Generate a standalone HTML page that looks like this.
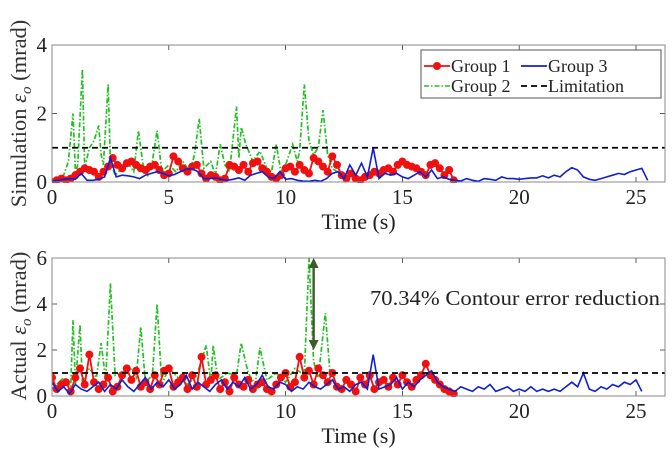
<!DOCTYPE html>
<html><head><meta charset="utf-8"><style>
body{margin:0;background:#fff;}
svg{display:block;font-family:"Liberation Serif",serif;}
</style></head><body>
<svg id="c" width="672" height="455" viewBox="0 0 672 455"></svg>
<script>
const xTicks=[0,5,10,15,20,25];
const topYTicks=[0,2,4];
const botYTicks=[0,2,4,6];
const limitValue=1;
// top panel (Simulation)
const topRedStep=0.2;
const topRed=[0,0.05,0.1,0.05,0.1,0.2,0.3,0.4,0.35,0.3,0.15,0.3,0.45,0.7,0.5,0.4,0.55,0.6,0.5,0.4,0.35,0.45,0.5,0.35,0.2,0.25,0.75,0.6,0.4,0.3,0.45,0.5,0.25,0.1,0.2,0.15,0.05,0.1,0.5,0.45,0.35,0.5,0.3,0.55,0.6,0.4,0.3,0.15,0.1,0.2,0.4,0.45,0.3,0.5,0.35,0.25,0.7,0.6,0.45,0.3,0.75,0.5,0.2,0.1,0.25,0.1,0.05,0.15,0.2,0.3,0.25,0.35,0.4,0.3,0.5,0.6,0.5,0.45,0.4,0.3,0.2,0.5,0.55,0.4,0.2,0.35,0.05];
const topGreenT=[0,0.5,0.7,0.9,1.0,1.1,1.3,1.4,1.6,1.8,2.0,2.1,2.2,2.4,2.5,2.7,3.0,3.3,3.5,3.7,3.9,4.1,4.3,4.5,4.7,5.0,5.3,5.6,5.9,6.1,6.3,6.5,6.8,7.0,7.2,7.4,7.6,7.9,8.0,8.1,8.3,8.6,8.9,9.2,9.4,9.6,9.8,10.0,10.3,10.5,10.6,10.8,11.0,11.2,11.4,11.6,11.8,12.0,12.2];
const topGreen=[0.05,0.2,0.6,2.0,0.3,0.5,3.3,0.4,1.0,1.2,1.65,0.8,0.5,2.85,0.6,0.2,0.4,0.5,0.3,1.5,0.5,0.2,0.6,1.5,0.3,0.5,0.3,0.6,0.3,0.8,1.85,0.4,0.6,0.2,1.1,0.5,0.3,2.2,0.7,1.6,1.1,0.6,0.9,0.4,0.3,1.1,0.3,0.5,1.1,0.6,0.9,2.85,1.2,0.8,1.0,2.1,0.8,0.4,0.3];
const topBlueStep=0.25;
const topBlue=[0.02,0.05,0.08,0.1,0.08,0.25,0.05,0.05,0.08,0.15,0.7,0.15,0.2,0.18,0.15,0.1,0.2,0.25,0.3,0.25,0.18,0.22,0.3,0.38,0.38,0.3,0.1,0.1,0.12,0.08,0.05,0.08,0.12,0.05,0.2,0.25,0.3,0.15,0.1,0.3,0.08,0.1,0.05,0.03,0.02,0.05,0.02,0.1,0.25,0.3,0.1,0.5,0.2,0.55,0.15,1.0,0.1,0.25,0.2,0.25,0.15,0.1,0.2,0.3,0.15,0.35,0.1,0.15,0.08,0.05,0.03,0.1,0.05,0.02,0.1,0.08,0.05,0.15,0.1,0.1,0.08,0.1,0.12,0.12,0.18,0.12,0.2,0.15,0.3,0.42,0.35,0.15,0.08,0.05,0.1,0.15,0.2,0.25,0.22,0.3,0.35,0.4,0.05];
// bottom panel (Actual)
const botRedStep=0.2;
const botRed=[0.8,0.3,0.5,0.6,0.2,0.8,1.2,0.5,1.8,0.6,0.3,0.5,0.8,0.2,0.4,0.9,1.2,0.7,1.1,0.4,0.6,0.3,0.9,0.5,1.1,1.2,0.4,0.6,0.8,0.3,0.9,0.4,1.7,0.5,0.7,0.9,0.3,0.6,0.2,0.8,0.5,0.4,0.7,0.3,0.5,0.6,0.3,0.2,0.5,0.8,1.0,0.4,0.6,1.7,0.8,1.1,0.5,1.2,0.9,0.6,1.0,0.4,0.3,0.7,0.5,0.2,0.8,0.5,0.9,0.3,0.6,0.7,0.4,0.8,0.5,0.9,0.6,0.4,0.7,0.9,1.4,0.9,0.7,0.5,0.3,0.2,0.1];
const botGreenT=[0,0.5,0.8,0.9,1.0,1.2,1.3,1.6,1.9,2.1,2.3,2.5,2.7,3.0,3.3,3.6,3.8,4.0,4.3,4.5,4.7,5.0,5.4,5.8,6.2,6.6,6.8,6.9,7.1,7.5,7.9,8.1,8.4,8.7,8.9,9.2,9.6,10.0,10.4,10.8,11.0,11.2,11.4,11.7,11.9,12.1];
const botGreen=[0.3,0.8,0.4,3.3,0.5,3.1,0.6,1.2,0.8,2.3,0.7,4.9,0.9,1.0,1.3,0.8,3.0,0.6,0.9,4.0,0.5,1.2,0.8,0.5,0.9,2.2,0.6,2.2,0.7,1.0,0.9,2.3,1.0,0.5,2.1,0.7,1.0,0.6,1.2,0.9,6.0,1.5,0.8,3.6,1.0,0.5];
const botBlueStep=0.25;
const botBlue=[0.6,0.2,0.4,0.1,0.5,0.3,0.2,0.4,0.6,0.2,0.5,0.3,0.7,0.4,0.2,0.5,0.8,0.3,0.6,0.4,0.7,0.3,0.5,0.9,0.3,0.6,0.4,0.2,0.5,0.7,0.3,0.6,0.4,0.8,0.3,0.5,0.9,0.4,0.3,0.6,0.5,0.2,0.4,0.3,0.6,0.4,0.3,0.5,0.7,0.3,0.4,0.2,0.5,0.6,0.3,1.8,0.3,0.4,0.5,0.8,0.3,0.6,0.4,0.7,0.9,1.1,0.6,0.4,0.3,0.2,0.4,0.3,0.2,0.4,0.3,0.5,0.2,0.3,0.4,0.2,0.3,0.2,0.4,0.2,0.3,0.2,0.3,0.2,0.4,0.6,0.4,1.0,0.3,0.2,0.4,0.3,0.5,0.4,0.6,0.5,0.7,0.2];

const NS='http://www.w3.org/2000/svg';
const svg=document.getElementById('c');
function mk(tag,attrs,parent){const e=document.createElementNS(NS,tag);for(const k in attrs)e.setAttribute(k,attrs[k]);(parent||svg).appendChild(e);return e;}
const X0=52,XU=23.36,XR=665;
const xs=t=>X0+t*XU;

function panel(cfg){
  const ys=v=>cfg.y0-v*cfg.yu;
  const g=mk('g',{});
  
  
  xTicks.forEach(t=>{
    const l=mk('line',{x1:xs(t),x2:xs(t),y1:cfg.y0,y2:cfg.y0-5,stroke:'#333','stroke-width':0.8},g);
    
    const l2=mk('line',{x1:xs(t),x2:xs(t),y1:cfg.yTop,y2:cfg.yTop+5,stroke:'#333','stroke-width':0.8},g);
    
    const tx=mk('text',{x:xs(t),y:cfg.y0+22,'font-size':21,'text-anchor':'middle',fill:'#222'},g);
    tx.textContent=t;
    
  });
  cfg.yTicks.forEach(v=>{
    const l=mk('line',{x1:X0,x2:X0+5,y1:ys(v),y2:ys(v),stroke:'#333','stroke-width':0.8},g);
    
    const l2=mk('line',{x1:XR,x2:XR-5,y1:ys(v),y2:ys(v),stroke:'#333','stroke-width':0.8},g);
    
    const tx=mk('text',{x:X0-5,y:ys(v)+7,'font-size':21,'text-anchor':'end',fill:'#222'},g);
    tx.textContent=v;
    
  });
  const clipId='clip'+cfg.name;
  const cp=mk('clipPath',{id:clipId},g);
  mk('rect',{x:X0,y:cfg.yTop-1,width:XR-X0,height:cfg.y0-cfg.yTop+2},cp);
  const pl=mk('g',{'clip-path':'url(#'+clipId+')'},g);
  function pts(ts,vs){return vs.map((v,i)=>xs(ts[i]).toFixed(1)+','+ys(v).toFixed(1)).join(' ');}
  const rT=cfg.red.map((v,i)=>i*cfg.redStep), bT=cfg.blue.map((v,i)=>i*cfg.blueStep);
  const gl=mk('polyline',{points:pts(cfg.greenT,cfg.green),fill:'none',stroke:'#22c022','stroke-width':1.7,'stroke-dasharray':'5,2,1.5,2'},pl);
  
  const rl=mk('polyline',{points:pts(rT,cfg.red),fill:'none',stroke:'#f01010','stroke-width':1.8},pl);
  
  cfg.red.forEach((v,i)=>{
    const c=mk('circle',{cx:xs(rT[i]),cy:ys(v),r:4,fill:'#f01010'},pl);
    
  });
  const bl=mk('polyline',{points:pts(bT,cfg.blue),fill:'none',stroke:'#1020d0','stroke-width':1.6},pl);
  
  const lim=mk('line',{x1:X0,x2:XR,y1:ys(limitValue),y2:ys(limitValue),stroke:'#000','stroke-width':1.8,'stroke-dasharray':'6,4'},pl);
  
  const fr=mk('rect',{x:X0,y:cfg.yTop,width:XR-X0,height:cfg.y0-cfg.yTop,fill:'none',stroke:'#888','stroke-width':1},g);
  
  const xt=mk('text',{x:(X0+XR)/2,y:cfg.y0+47,'font-size':22,'text-anchor':'middle',fill:'#222'},g);
  xt.textContent='Time (s)';
  
  const cy=(cfg.y0+cfg.yTop)/2+cfg.yOff;
  const yt=mk('text',{x:0,y:0,'font-size':22.5,'text-anchor':'middle',fill:'#333',transform:'translate(26,'+cy+') rotate(-90)'},g);
  yt.innerHTML=cfg.ylab+' <tspan font-style="italic">ε</tspan><tspan font-style="italic" font-size="15" dy="5">o</tspan><tspan dy="-5"> (mrad)</tspan>';
  
  return ys;
}
panel({name:'simulation',y0:182,yTop:45,yu:137/4,yTicks:topYTicks,red:topRed,redStep:topRedStep,green:topGreen,greenT:topGreenT,blue:topBlue,blueStep:topBlueStep,ylab:'Simulation',yOff:0});
const ysB=panel({name:'actual',y0:396,yTop:258,yu:138/6,yTicks:botYTicks,red:botRed,redStep:botRedStep,green:botGreen,greenT:botGreenT,blue:botBlue,blueStep:botBlueStep,ylab:'Actual',yOff:-1});

const lg=mk('g',{});

mk('rect',{x:421,y:50,width:240,height:48,fill:'#fff',stroke:'#555','stroke-width':1},lg);
mk('line',{x1:424,x2:450,y1:66,y2:66,stroke:'#f01010','stroke-width':1.8},lg);
mk('circle',{cx:437,cy:66,r:4,fill:'#f01010'},lg);
mk('line',{x1:521,x2:547,y1:66,y2:66,stroke:'#1020d0','stroke-width':1.8},lg);
mk('line',{x1:424,x2:450,y1:86,y2:86,stroke:'#22c022','stroke-width':1.6,'stroke-dasharray':'5,2,1.5,2'},lg);
mk('line',{x1:521,x2:547,y1:86,y2:86,stroke:'#000','stroke-width':1.8,'stroke-dasharray':'6,4'},lg);
[['Group 1',451,72,'legend-entry-group-1'],['Group 3',548,72,'legend-entry-group-3'],['Group 2',451,92,'legend-entry-group-2'],['Limitation',548,92,'legend-entry-limitation']].forEach(a=>{
  const t=mk('text',{x:a[1],y:a[2],'font-size':18,fill:'#222'},lg);t.textContent=a[0];
  
});
const ann=mk('text',{x:370,y:305,'font-size':21.5,fill:'#222',textLength:290,lengthAdjust:'spacingAndGlyphs'});
ann.textContent='70.34% Contour error reduction';

const ax=xs(11.2);
const ar=mk('g',{});

mk('line',{x1:ax,x2:ax,y1:ysB(6)+8,y2:ysB(2)-8,stroke:'#3d5a2a','stroke-width':2.4},ar);
mk('polygon',{points:`${ax-5},${ysB(6)+10} ${ax+5},${ysB(6)+10} ${ax},${ysB(6)}`,fill:'#3d5a2a'},ar);
mk('polygon',{points:`${ax-5},${ysB(2)-10} ${ax+5},${ysB(2)-10} ${ax},${ysB(2)}`,fill:'#3d5a2a'},ar);
</script>
</body></html>
